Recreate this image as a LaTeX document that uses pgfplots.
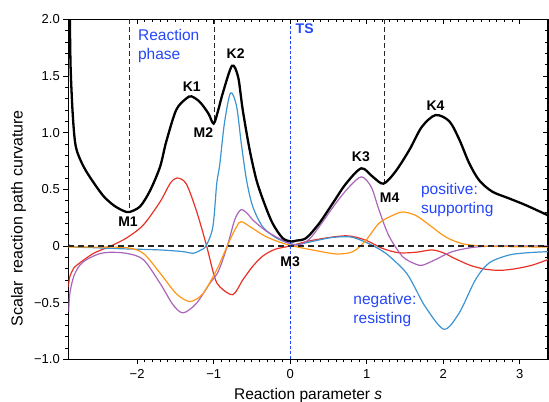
\documentclass[border=0pt]{standalone}
\usepackage{pgfplots}
\pgfplotsset{compat=1.18}
\usepackage{fontspec}
\setmainfont{Liberation Sans}
\definecolor{cred}{RGB}{232,50,40}
\definecolor{cblue}{RGB}{60,148,210}
\definecolor{cpurple}{RGB}{170,100,185}
\definecolor{corange}{RGB}{255,150,20}
\definecolor{tblue}{RGB}{35,70,250}
\begin{document}
\begin{tikzpicture}
\path[use as bounding box] (0,0) rectangle (549bp,402bp);
\begin{axis}[
 at={(68.3bp,42.7bp)}, anchor=south west,
 scale only axis, width=479.7bp, height=340bp,
 xmin=-2.9, xmax=3.37, ymin=-1, ymax=2,
 xtick={-2,-1,0,1,2,3}, xticklabels={−2,−1,0,1,2,3},
 ytick={-1,-0.5,0,0.5,1,1.5,2}, yticklabels={−1.0,−0.5,0,0.5,1.0,1.5,2.0},
 minor x tick num=9, minor y tick num=4,
 xtick pos=left, ytick pos=left, tick align=outside,
 major tick length=5bp, minor tick length=3bp,
 every tick/.style={black, line width=0.9bp},
 axis line style={line width=1.2bp},
 ticklabel style={font=\fontsize{13bp}{15bp}\selectfont},
 xticklabel style={yshift=-1.5bp},
 xlabel={Reaction parameter \textit{s}},
 ylabel={Scalar\hspace{0.45em}reaction path curvature},
 label style={font=\fontsize{15.5bp}{18bp}\selectfont},
 xlabel style={at={(axis description cs:0.5,-0.106)}, anchor=center},
 ylabel style={at={(axis description cs:-0.104,0.415)}, anchor=center, font=\fontsize{16bp}{18bp}\selectfont},
 clip=true,
]
% colored components
\addplot[cred, line width=1.2bp, smooth] coordinates {
(-2.90,-0.36) (-2.88,-0.27) (-2.84,-0.21) (-2.79,-0.17) (-2.57,-0.065) (-2.36,-0.005)
(-2.14,0.07) (-1.92,0.185) (-1.70,0.39) (-1.57,0.55) (-1.48,0.60) (-1.36,0.55)
(-1.23,0.32) (-1.10,0.02) (-0.99,-0.27) (-0.92,-0.36) (-0.75,-0.43) (-0.62,-0.30)
(-0.49,-0.18) (-0.36,-0.09) (-0.20,-0.03) (0.0,0.0) (0.29,0.05) (0.73,0.09) (0.99,0.05)
(1.20,-0.02) (1.42,-0.06) (1.65,-0.055) (1.85,-0.035) (2.0,-0.06) (2.15,-0.11)
(2.35,-0.17) (2.55,-0.205) (2.75,-0.215) (2.95,-0.20) (3.16,-0.17) (3.37,-0.12)};
\addplot[cblue, line width=1.2bp, smooth] coordinates {
(-2.89,0.01) (-2.80,-0.01) (-2.57,-0.015) (-2.14,-0.026) (-1.70,-0.035) (-1.40,-0.05)
(-1.27,-0.065) (-1.18,-0.04) (-1.10,0.0) (-1.01,0.17) (-0.96,0.55) (-0.92,0.72)
(-0.86,1.08) (-0.78,1.35) (-0.70,1.23) (-0.64,0.91) (-0.57,0.58) (-0.49,0.35)
(-0.36,0.17) (-0.18,0.07) (0,0.02) (0.08,0.01) (0.29,0.04) (0.50,0.07) (0.64,0.08)
(0.81,0.077) (1.03,0.02) (1.25,-0.065) (1.47,-0.20) (1.56,-0.28) (1.64,-0.38)
(1.77,-0.54) (2.01,-0.735) (2.21,-0.59) (2.42,-0.30) (2.60,-0.15) (2.86,-0.08)
(3.10,-0.06) (3.37,-0.05)};
\addplot[cpurple, line width=1.2bp, smooth] coordinates {
(-2.895,-0.58) (-2.88,-0.42) (-2.83,-0.27) (-2.75,-0.17) (-2.66,-0.12) (-2.50,-0.07)
(-2.36,-0.056) (-2.14,-0.065) (-1.92,-0.12) (-1.70,-0.33) (-1.53,-0.52) (-1.40,-0.59)
(-1.23,-0.51) (-1.05,-0.33) (-0.95,-0.24) (-0.87,-0.10) (-0.80,0.05) (-0.72,0.24)
(-0.64,0.32) (-0.55,0.28) (-0.49,0.23) (-0.31,0.13) (-0.10,0.05) (0,0.02) (0.12,0.01)
(0.25,0.06) (0.38,0.17) (0.60,0.38) (0.77,0.52) (0.93,0.61) (1.06,0.52) (1.16,0.32)
(1.29,0.09) (1.47,-0.094) (1.64,-0.16) (1.73,-0.17) (1.90,-0.12) (2.12,-0.05)
(2.42,-0.01) (2.8,0.0) (3.37,0.0)};
\addplot[corange, line width=1.2bp, smooth] coordinates {
(-2.90,-0.01) (-2.57,-0.01) (-2.14,-0.015) (-1.92,-0.065) (-1.70,-0.24) (-1.49,-0.42)
(-1.31,-0.49) (-1.14,-0.42) (-0.96,-0.21) (-0.88,-0.09) (-0.79,0.05) (-0.70,0.17)
(-0.64,0.215) (-0.49,0.155) (-0.31,0.08) (-0.10,0.025) (0.03,0.0) (0.29,-0.035)
(0.60,-0.07) (0.82,-0.05) (0.99,0.05) (1.16,0.20) (1.34,0.27) (1.47,0.30) (1.64,0.27)
(1.82,0.185) (2.03,0.08) (2.25,0.02) (2.5,0.0) (2.77,-0.005) (3.37,-0.01)};
% reference lines
\addplot[black!85, line width=1.5bp, dash pattern=on 6bp off 4bp] coordinates {(-2.9,0) (3.37,0)};
\addplot[black!85, line width=1.0bp, dash pattern=on 5bp off 3bp] coordinates {(-2.104,2) (-2.104,0.30)};
\addplot[black!85, line width=1.0bp, dash pattern=on 5bp off 3bp] coordinates {(-0.993,2) (-0.993,1.08)};
\addplot[black!85, line width=1.0bp, dash pattern=on 5bp off 3bp] coordinates {(1.23,2) (1.23,0.55)};
\addplot[tblue, line width=1.1bp, dash pattern=on 3bp off 2bp] coordinates {(0,-1) (0,2)};
% total curvature
\addplot[black, line width=2.3bp, smooth] coordinates {
(-2.88,2.05) (-2.87,1.58) (-2.84,1.14) (-2.80,0.87) (-2.70,0.70) (-2.57,0.56)
(-2.44,0.44) (-2.31,0.36) (-2.18,0.31) (-2.10,0.30) (-1.96,0.35) (-1.83,0.49)
(-1.70,0.70) (-1.62,0.92) (-1.49,1.20) (-1.36,1.30) (-1.29,1.32) (-1.18,1.27)
(-1.07,1.17) (-1.00,1.08) (-0.94,1.20) (-0.88,1.35) (-0.76,1.59) (-0.68,1.49)
(-0.62,1.20) (-0.53,0.85) (-0.44,0.58) (-0.34,0.38) (-0.23,0.20) (-0.10,0.07)
(0.01,0.04) (0.08,0.047) (0.21,0.07) (0.38,0.20) (0.56,0.38) (0.73,0.55) (0.93,0.685)
(1.08,0.61) (1.22,0.55) (1.38,0.66) (1.56,0.85) (1.72,1.05) (1.90,1.155) (2.08,1.10)
(2.21,0.94) (2.34,0.73) (2.47,0.58) (2.64,0.48) (2.86,0.42) (3.08,0.36) (3.37,0.27)};
% labels
\begin{scope}[every node/.style={font=\fontsize{14bp}{16bp}\selectfont\bfseries, inner sep=0pt}]
\node at (axis cs:-1.287,1.403) {K1};
\node at (axis cs:-0.713,1.695) {K2};
\node at (axis cs:0.925,0.785) {K3};
\node at (axis cs:1.90,1.24) {K4};
\node at (axis cs:-2.12,0.21) {M1};
\node at (axis cs:-1.135,1.0) {M2};
\node at (axis cs:0.0,-0.14) {M3};
\node at (axis cs:1.30,0.43) {M4};
\end{scope}
\node[tblue, font=\fontsize{14bp}{16bp}\selectfont\bfseries, anchor=west, inner sep=0pt] at (axis cs:0.07,1.92) {TS};
\node[tblue, font=\fontsize{15.5bp}{18.5bp}\selectfont, align=left, anchor=west, inner sep=0pt] at (axis cs:-1.99,1.765) {Reaction\\phase};
\node[tblue, font=\fontsize{15.5bp}{19.3bp}\selectfont, align=left, anchor=west, inner sep=0pt] at (axis cs:1.708,0.406) {positive:\\supporting};
\node[tblue, font=\fontsize{15.5bp}{19.3bp}\selectfont, align=left, anchor=west, inner sep=0pt] at (axis cs:0.825,-0.562) {negative:\\resisting};
\end{axis}
\begin{axis}[
 at={(68.3bp,42.7bp)}, anchor=south west,
 scale only axis, width=479.7bp, height=340bp,
 xmin=-2.9, xmax=3.37, ymin=-1, ymax=2,
 xtick={-2,-1,0,1,2,3}, ytick={-1,-0.5,0,0.5,1,1.5,2},
 xticklabels={}, yticklabels={},
 minor x tick num=9, minor y tick num=4,
 xtick pos=right, ytick pos=right, tick align=inside,
 major tick length=5bp, minor tick length=3bp,
 every tick/.style={black, line width=0.9bp},
 axis line style={draw=none},
]
\end{axis}
\end{tikzpicture}
\end{document}
